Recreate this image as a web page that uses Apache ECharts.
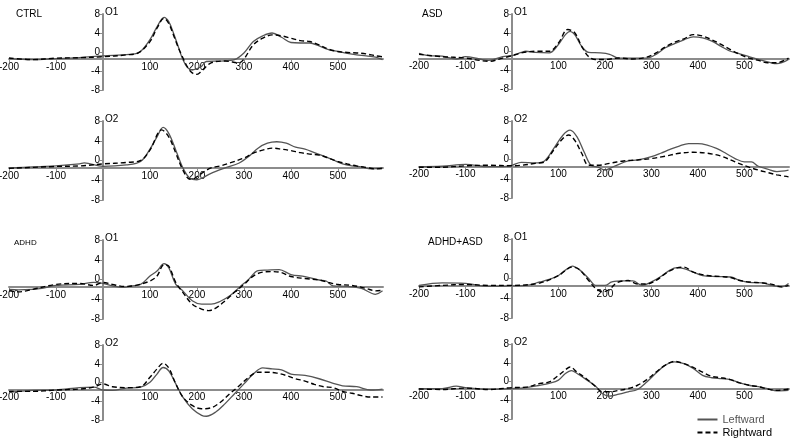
<!DOCTYPE html>
<html><head><meta charset="utf-8">
<script src="https://cdn.jsdelivr.net/npm/echarts@6/dist/echarts.min.js"></script>
<style>html,body{margin:0;padding:0;background:#fff}#c{width:793px;height:442px}</style>
</head><body><div id="c"></div>
<script>
// ---------- data: [time ms, amplitude µV] ----------
const ctrlO1Left = [[-200,-1.4],[-150,-1.6],[-100,-1.4],[-50,-1.2],[0,-0.8],[50,-0.55],[75,-0.2],[100,2.6],[115,5.3],[130,7.3],[140,6.4],[150,4],[160,1.2],[170,-1.6],[180,-3.3],[190,-3.8],[200,-3.5],[210,-3],[220,-2],[250,-1.9],[280,-1.6],[300,-0.2],[320,2.2],[340,3.4],[360,4],[380,3.1],[400,2],[420,1.9],[440,1.9],[460,1.3],[480,0.5],[500,0.1],[520,-0.3],[540,-0.6],[560,-0.8],[580,-1.1],[595,-1.6]];
const ctrlO1Right = [[-200,-1.25],[-150,-1.6],[-100,-1.3],[-50,-1.2],[0,-1],[50,-0.6],[75,-0.2],[100,2.2],[115,5],[130,7.1],[140,6],[150,3.6],[160,1],[170,-1.2],[180,-3.2],[190,-4.4],[200,-4.7],[210,-4],[230,-2.3],[260,-1.9],[290,-2.3],[300,-1.5],[320,1.5],[340,2.9],[360,3.6],[380,3.4],[400,2.9],[420,2.4],[440,2.2],[460,1.5],[480,0.6],[500,0.1],[520,-0.1],[540,-0.2],[560,-0.4],[580,-0.8],[595,-1]];
const ctrlO2Left = [[-200,-1.5],[-150,-1.3],[-100,-1.1],[-50,-0.7],[-40,-0.5],[0,-1.2],[50,-0.9],[80,-0.2],[100,2.3],[115,4.8],[128,6.7],[140,5.5],[155,2.1],[170,-1.5],[185,-3.6],[200,-3.9],[210,-3.6],[230,-2.6],[260,-1.5],[290,-0.5],[310,0.8],[330,2.5],[350,3.5],[370,3.8],[390,3.5],[410,2.7],[430,2.3],[450,1.6],[470,0.9],[490,0.1],[510,-0.7],[530,-1.1],[550,-1.3],[570,-1.7],[595,-1.5]];
const ctrlO2Right = [[-200,-1.6],[-100,-1.2],[-50,-1.1],[0,-0.7],[50,-0.4],[80,0],[100,2.1],[125,6.2],[140,4.8],[155,1.5],[170,-1.9],[185,-3.8],[195,-3.6],[210,-2.6],[230,-1.5],[250,-1.1],[270,-0.5],[300,0.5],[320,1.5],[340,2.1],[360,2.5],[380,2.3],[400,2],[420,1.6],[440,1.3],[460,1.1],[480,0.5],[500,-0.2],[520,-0.7],[540,-1.1],[560,-1.4],[580,-1.7],[595,-1.6]];

const asdO1Left = [[-200,-0.4],[-180,-0.9],[-150,-1],[-120,-1.6],[-100,-1.1],[-70,-1.6],[-50,-1.9],[-20,-1.1],[0,-0.9],[20,-0.2],[30,0.05],[50,-0.2],[80,-0.3],[100,1.5],[115,3.6],[125,4.3],[135,3.6],[150,1.1],[165,-0.2],[190,-0.3],[210,-0.6],[230,-1.4],[260,-1.4],[290,-1.4],[310,-0.6],[330,0.8],[350,1.7],[370,2.5],[390,3.1],[410,2.9],[430,2.2],[450,1.1],[470,0.05],[490,-0.5],[510,-1.1],[530,-1.7],[550,-2.2],[570,-2.6],[595,-1.7]];
const asdO1Right = [[-200,-0.6],[-150,-1.1],[-100,-1.4],[-70,-1.9],[-50,-2.1],[-20,-1.4],[0,-0.9],[20,-0.3],[50,0.05],[80,0.05],[100,1.8],[120,4.7],[135,4],[150,1.1],[165,-1.1],[180,-1.7],[200,-1.7],[230,-1.4],[260,-1.6],[290,-1.2],[310,-0.3],[330,1],[350,2],[370,2.7],[390,3.6],[410,3.3],[430,2.5],[450,1.5],[470,0.4],[490,-0.6],[510,-1.4],[530,-1.9],[550,-2.4],[570,-2.4],[595,-1.4]];
const asdO2Left = [[-200,-1.5],[-150,-1.4],[-100,-1],[-50,-1.5],[-20,-1.5],[0,-1.2],[20,-0.6],[50,-0.7],[70,-0.3],[90,2.3],[110,5.1],[125,6.1],[140,4.7],[155,1.6],[170,-1.2],[185,-1.6],[200,-2.2],[220,-1.4],[250,-0.3],[270,-0.1],[300,0.6],[320,1.3],[340,2.1],[360,2.8],[380,3.3],[400,3.3],[420,3],[440,2.3],[460,1.3],[480,0.2],[500,-0.5],[515,-0.5],[530,-1.4],[550,-2],[570,-2.5],[595,-2.2]];
const asdO2Right = [[-200,-1.6],[-150,-1.6],[-100,-1.3],[-50,-1.2],[0,-1.3],[20,-1.2],[50,-0.8],[70,-0.5],[90,2],[110,4.4],[122,5.1],[135,4],[150,1.3],[165,-1.2],[185,-1.2],[210,-0.8],[240,-0.3],[270,-0.1],[300,0.2],[330,0.7],[360,1.3],[390,1.5],[420,1.3],[450,0.7],[480,-0.5],[510,-1.6],[530,-2.2],[550,-2.7],[570,-3.2],[595,-3.6]];

const adhdO1Left = [[-200,-2],[-180,-2.1],[-150,-2],[-130,-1.8],[-100,-1.2],[-50,-1],[-20,-0.6],[0,-0.8],[20,-1.3],[45,-1.6],[60,-1.3],[80,-1],[100,0.7],[115,1.7],[130,3.2],[140,2.4],[155,-1],[170,-2.3],[190,-4.3],[210,-5],[230,-5],[250,-4.4],[270,-3.3],[290,-1.6],[310,0],[330,1.8],[350,1.9],[375,2],[400,1],[430,0.6],[460,-0.1],[475,-0.3],[490,-1.3],[520,-1.4],[550,-1.8],[580,-3],[595,-2.3]];
const adhdO1Right = [[-200,-2.3],[-180,-2.5],[-150,-2],[-100,-1],[-50,-0.8],[-20,-1.2],[0,-0.6],[20,-1],[45,-1.4],[70,-1.2],[100,-0.3],[115,0.7],[130,3],[140,2.7],[155,-0.6],[170,-2.6],[190,-5],[210,-6],[225,-6.3],[240,-5.8],[260,-4.3],[280,-2.6],[300,-1],[320,0.7],[340,1.5],[360,1.6],[380,1.4],[400,0.6],[430,0.2],[460,-0.1],[480,-0.6],[500,-1],[530,-1.2],[560,-1.8],[580,-2.3],[595,-2.2]];
const adhdO2Left = [[-200,-2.1],[-150,-1.7],[-100,-1.6],[-50,-1.1],[-20,-1],[0,-1.6],[20,-1.7],[50,-1.2],[80,-1],[100,0.05],[115,1.8],[128,3.2],[140,2.5],[155,-0.3],[170,-3.1],[190,-5.6],[210,-7],[220,-7.2],[240,-6.3],[260,-4.5],[280,-2.4],[300,-0.3],[320,1.8],[340,3.1],[360,2.9],[380,2.7],[400,1.8],[430,1.5],[460,0.8],[490,-0.2],[510,-0.7],[540,-0.9],[570,-1.6],[595,-1.4]];
const adhdO2Right = [[-200,-1.9],[-150,-1.9],[-100,-1.6],[-50,-1.4],[-20,-1],[0,-0.3],[20,-0.9],[50,-1.1],[80,-0.9],[100,1.1],[115,2.9],[128,4.1],[140,3.1],[155,-0.3],[170,-3.1],[190,-4.9],[210,-5.6],[230,-5.4],[250,-4.2],[270,-2.4],[290,-0.7],[310,1.1],[330,2.2],[350,2.2],[370,2],[390,1.5],[410,0.8],[430,0.3],[450,-0.4],[470,-0.9],[490,-1.1],[510,-1.9],[530,-2.3],[550,-2.8],[570,-3.1],[595,-3.1]];

const comboO1Left = [[-200,-1.4],[-150,-0.9],[-100,-1],[-50,-1.6],[0,-1.5],[30,-1.4],[60,-0.7],[80,-0.2],[100,0.6],[115,1.7],[130,2.5],[145,1.8],[165,0],[180,-1.4],[200,-1.4],[215,-0.7],[240,-0.5],[260,-0.5],[280,-1.4],[300,-0.7],[320,0.4],[340,1.7],[355,2.2],[370,2],[390,1.3],[410,0.6],[440,0.4],[470,0.3],[490,-0.4],[510,-0.8],[540,-0.9],[560,-1.4],[580,-1.7],[595,-1]];
const comboO1Right = [[-200,-1.7],[-150,-1.4],[-100,-1.2],[-50,-1.4],[0,-1.4],[60,-0.9],[100,0.6],[130,2.3],[145,1.8],[165,-0.4],[180,-2],[195,-2.7],[210,-2.2],[225,-0.9],[250,-0.4],[270,-1.1],[290,-1.1],[310,-0.4],[330,1],[350,2],[370,2.3],[390,1.3],[420,0.6],[450,0.4],[470,0.2],[490,-0.4],[510,-0.7],[540,-0.9],[560,-1.2],[580,-1.7],[595,-1.4]];
const comboO2Left = [[-200,-1.5],[-150,-1.5],[-120,-1],[-100,-1.3],[-50,-1.7],[0,-1.5],[30,-1.3],[60,-0.8],[80,-0.4],[100,0.3],[115,1.7],[128,2.3],[140,1.7],[160,0.4],[180,-1],[195,-2.6],[210,-3.1],[230,-2.7],[250,-2.2],[270,-1.7],[290,-0.1],[310,1.8],[330,3.5],[350,4.2],[370,3.8],[390,2.8],[410,1.3],[430,0.8],[450,0.6],[470,0.4],[490,-0.3],[510,-0.8],[530,-1.1],[550,-1.5],[570,-2],[595,-1.9]];
const comboO2Right = [[-200,-1.6],[-150,-1.7],[-100,-1.4],[-50,-1.7],[0,-1.3],[30,-1.2],[60,-0.4],[80,-0.1],[100,1.3],[115,2.5],[125,3.1],[140,2],[160,0.6],[180,-1.1],[195,-2.2],[210,-2.2],[230,-1.9],[250,-1.5],[270,-0.8],[290,0.4],[310,2],[330,3.5],[350,4.3],[370,3.8],[390,3],[410,2],[430,1.1],[450,0.8],[470,0.4],[490,-0.3],[510,-0.8],[530,-1.1],[550,-1.6],[570,-1.9],[595,-1.6]];

const seriesNames = ['Leftward', 'Rightward'];
const xMin = -200, xMax = 596, xStep = 100;
const yMin = -8, yMax = 8, yStep = 4;
const xAxisCrossAt = -1.5;   // amplitude where the time axis crosses
const yAxisCrossAt = 0;      // time where the amplitude axis crosses

// panel order: left column rows 1-4, right column rows 1-4
const panelData = [
  [ctrlO1Left, ctrlO1Right], [ctrlO2Left, ctrlO2Right],
  [adhdO1Left, adhdO1Right], [adhdO2Left, adhdO2Right],
  [asdO1Left, asdO1Right], [asdO2Left, asdO2Right],
  [comboO1Left, comboO1Right], [comboO2Left, comboO2Right]
];
const panelChannel = ['O1','O2','O1','O2','O1','O2','O1','O2'];

// ---------- layout ----------
const layouts = [
  {left: 9, top: 14, width: 374, height: 76},
  {left: 9, top: 121, width: 374, height: 79},
  {left: 9, top: 240, width: 374, height: 79},
  {left: 9, top: 345, width: 374, height: 75},
  {left: 419, top: 14, width: 370, height: 75},
  {left: 419, top: 121, width: 370, height: 77},
  {left: 419, top: 239, width: 370, height: 79},
  {left: 419, top: 344, width: 370, height: 75}
];
const titleLayout = [
  {text: 'CTRL', left: 16, top: 9, size: 10},
  {text: 'ASD', left: 422, top: 9, size: 10},
  {text: 'ADHD', left: 14, top: 239, size: 8},
  {text: 'ADHD+ASD', left: 428, top: 237, size: 10}
];

const FONT = 'Liberation Sans, Arial, sans-serif';
const AXIS_COLOR = '#8c8c8c';
const grid = [], xAxis = [], yAxis = [], series = [];
layouts.forEach((l, i) => {
  grid.push({left: l.left, top: l.top, width: l.width, height: l.height, containLabel: false, outerBoundsMode: 'none'});
  // move axes inward so that they cross at the given values
  const xOff = -l.height * (xAxisCrossAt - yMin) / (yMax - yMin);
  const yOff = -l.width * (yAxisCrossAt - xMin) / (xMax - xMin);
  xAxis.push({
    type: 'value', gridIndex: i, min: xMin, max: xMax, interval: xStep,
    position: 'bottom', offset: xOff,
    axisLine: {show: true, onZero: false, lineStyle: {color: AXIS_COLOR, width: 2}},
    axisTick: {show: true, length: 3, lineStyle: {color: AXIS_COLOR, width: 1}},
    axisLabel: {fontSize: 10, color: '#000', margin: 3, fontFamily: FONT, showMaxLabel: false,
      formatter: v => (v === 0 ? '' : String(v))},
    splitLine: {show: false}
  });
  yAxis.push({
    type: 'value', gridIndex: i, min: yMin, max: yMax, interval: yStep,
    position: 'left', offset: yOff,
    axisLine: {show: true, onZero: false, lineStyle: {color: AXIS_COLOR, width: 2}},
    axisTick: {show: true, length: 3, lineStyle: {color: AXIS_COLOR, width: 1}},
    axisLabel: {fontSize: 10, color: '#000', margin: 3, fontFamily: FONT},
    splitLine: {show: false},
    name: panelChannel[i], nameLocation: 'end', nameGap: 0,
    nameTextStyle: {fontSize: 10, color: '#000', fontFamily: FONT, align: 'left', verticalAlign: 'bottom', padding: [0, 0, -3, 2]}
  });
  const [leftData, rightData] = panelData[i];
  series.push({
    type: 'line', name: seriesNames[0], xAxisIndex: i, yAxisIndex: i, data: leftData,
    showSymbol: false, symbol: 'none', smooth: 0.35,
    lineStyle: {color: '#555', width: 1.3}, itemStyle: {color: '#555'}
  });
  series.push({
    type: 'line', name: seriesNames[1], xAxisIndex: i, yAxisIndex: i, data: rightData,
    showSymbol: false, symbol: 'none', smooth: 0.35,
    lineStyle: {color: '#000', width: 1.4, type: [5, 3]}, itemStyle: {color: '#000'}
  });
});

const option = {
  animation: false,
  backgroundColor: '#fff',
  textStyle: {fontFamily: FONT},
  title: titleLayout.map(t => ({text: t.text, left: t.left, top: t.top, padding: 0,
    textStyle: {fontSize: t.size, fontWeight: 'normal', color: '#000', fontFamily: FONT}})),
  legend: {
    orient: 'vertical', right: 21, top: 414, padding: 0, itemGap: 2,
    itemWidth: 20, itemHeight: 12,
    itemStyle: {opacity: 0},
    textStyle: {fontSize: 11, fontFamily: FONT},
    data: [{name: seriesNames[0], textStyle: {color: '#555'}}, {name: seriesNames[1], textStyle: {color: '#000'}}]
  },
  grid, xAxis, yAxis, series
};
const chart = echarts.init(document.getElementById('c'), null, {renderer: 'canvas'});
chart.setOption(option);
</script></body></html>
